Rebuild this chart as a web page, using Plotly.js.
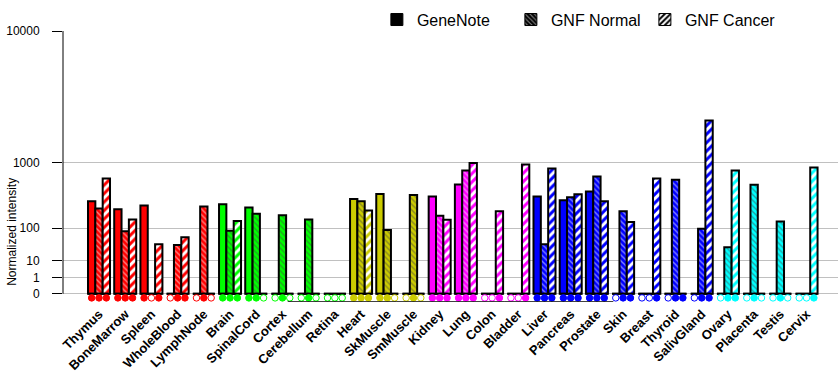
<!DOCTYPE html>
<html>
<head>
<meta charset="utf-8">
<script src="https://cdn.plot.ly/plotly-3.0.1.min.js"></script>
<style>html,body{margin:0;padding:0;background:#fff;}#chart{width:840px;height:385px;}</style>
</head>
<body>
<div id="chart"></div>
<script>
// ---- data ----
const tissues = ["Thymus","BoneMarrow","Spleen","WholeBlood","LymphNode","Brain","SpinalCord","Cortex","Cerebellum","Retina","Heart","SkMuscle","SmMuscle","Kidney","Lung","Colon","Bladder","Liver","Pancreas","Prostate","Skin","Breast","Thyroid","SalivGland","Ovary","Placenta","Testis","Cervix"];
const tissueColors = ["#FF0000","#FF0000","#FF0000","#FF0000","#FF0000","#00FF00","#00FF00","#00FF00","#00FF00","#00FF00","#CCCC00","#CCCC00","#CCCC00","#FF00FF","#FF00FF","#FF00FF","#FF00FF","#0000FF","#0000FF","#0000FF","#0000FF","#0000FF","#0000FF","#0000FF","#00FFFF","#00FFFF","#00FFFF","#00FFFF"];
const geneNote  = [311,230,268,0,0,279,248,0,0,0,338,401,0,370,544,0,0,370,322,437,0,0,0,0,0,0,0,0];
const gnfNormal = [239,85,0,37,258,87,193,180,151,0,311,91,388,178,811,0,0,39,358,687,213,0,626,97,32,539,137,0];
const gnfCancer = [649,151,39,61,0,141,0,0,0,0,221,0,0,148,984,213,949,855,396,311,135,649,0,2508,811,0,0,878];
// detection calls (1 = present, filled dot; 0 = absent, open dot)
const geneNoteCall  = [1,1,1,0,0,1,1,0,0,0,1,1,0,1,1,0,0,1,1,1,0,0,0,0,0,0,0,0];
const gnfNormalCall = [1,1,0,1,1,1,1,1,1,0,1,1,1,1,1,0,0,1,1,1,1,0,1,1,1,1,1,0];
const gnfCancerCall = [1,1,1,1,0,1,0,0,0,0,1,0,0,1,1,1,1,1,1,1,1,1,1,1,1,0,0,1];
const seriesNames = ["GeneNote","GNF Normal","GNF Cancer"];
const yTickValues = [0,1,10,100,1000,10000];
const yTickLabels = ["0","1","10","100","1000","10000"];

// ---- scale: y' = x^log10(2) (each decade doubles) ----
const P = Math.log10(2);
const tf = v => v > 0 ? Math.pow(v, P) : 0;
const idx = tissues.map((_, i) => i);
const BARGAP = 0.16;
const BW = (1 - BARGAP) / 3;
const FONT = "Arial, 'Liberation Sans', sans-serif";
const YMIN = -0.5, YMAX = 16;

const traces = [];

// group baselines (zero-height bars appear as flat outlines)
const bx = [], by = [];
idx.forEach(i => { bx.push(i - 1.5 * BW, i + 1.5 * BW, null); by.push(0, 0, null); });
traces.push({type: "scatter", mode: "lines", x: bx, y: by, line: {color: "#000", width: 2},
  showlegend: false, hoverinfo: "skip"});

const outline = {color: "#000", width: 2};
const normalPattern = c => ({shape: "\\", bgcolor: c, fgcolor: "#FFFFFF", size: 4, solidity: 0.35, fillmode: "overlay"});
const cancerPattern = c => ({shape: "/", bgcolor: "#FFFFFF", fgcolor: c, size: 6, solidity: 0.5, fillmode: "replace"});

traces.push({type: "bar", name: seriesNames[0], x: idx, y: geneNote.map(tf), showlegend: false,
  marker: {color: tissueColors, line: outline}});
traces.push({type: "bar", name: seriesNames[1], x: idx, y: gnfNormal.map(tf), showlegend: false,
  marker: {color: tissueColors, line: outline, pattern: normalPattern(tissueColors)}});
traces.push({type: "bar", name: seriesNames[2], x: idx, y: gnfCancer.map(tf), showlegend: false,
  marker: {color: "#FFFFFF", line: outline, pattern: cancerPattern(tissueColors)}});

// detection call dots under each bar
const calls = [geneNoteCall, gnfNormalCall, gnfCancerCall];
const mx = [], my = [], ms = [], mc = [];
idx.forEach(i => {
  calls.forEach((c, k) => {
    mx.push(i + (k - 1) * BW);
    my.push(-0.25);
    ms.push(c[i] ? "circle" : "circle-open");
    mc.push(tissueColors[i]);
  });
});
traces.push({type: "scatter", mode: "markers", x: mx, y: my, showlegend: false, hoverinfo: "skip",
  marker: {symbol: ms, color: mc, size: 6.5, line: {width: 1, color: mc}}});

// legend entries (black), on a hidden overlay subplot so they don't affect grouping
const legendLine = {color: "#000", width: 1};
traces.push({type: "bar", name: seriesNames[0], x: [0], y: [0], xaxis: "x2", yaxis: "y2", hoverinfo: "skip",
  marker: {color: "#000", line: legendLine}});
traces.push({type: "bar", name: seriesNames[1], x: [0], y: [0], xaxis: "x2", yaxis: "y2", hoverinfo: "skip",
  marker: {color: "#000", line: legendLine, pattern: normalPattern("#000")}});
traces.push({type: "bar", name: seriesNames[2], x: [0], y: [0], xaxis: "x2", yaxis: "y2", hoverinfo: "skip",
  marker: {color: "#FFF", line: legendLine, pattern: {shape: "/", bgcolor: "#FFF", fgcolor: "#000", size: 5, solidity: 0.5, fillmode: "replace"}}});

const layout = {
  width: 840, height: 385,
  margin: {l: 63, r: 2, t: 31, b: 83, pad: 0},
  paper_bgcolor: "#fff", plot_bgcolor: "#fff",
  font: {family: FONT, color: "#000", size: 12},
  barmode: "group", bargap: BARGAP, bargroupgap: 0,
  xaxis: {range: [-1.374, 28.2], tickmode: "array", tickvals: idx, ticktext: tissues, tickangle: -45,
    tickfont: {family: FONT, size: 13, weight: 700, color: "#000"}, showgrid: false, zeroline: false,
    showline: false, ticks: "", ticklabelstandoff: 1, fixedrange: true},
  yaxis: {range: [YMIN, YMAX], tickmode: "array", tickvals: yTickValues.map(tf), ticktext: yTickLabels,
    showgrid: true, gridcolor: "#C0C0C0", gridwidth: 1, zeroline: false, showline: false,
    ticks: "outside", ticklen: 10, tickcolor: "#000", tickwidth: 1,
    tickfont: {family: FONT, size: 12, color: "#000"}, ticklabelstandoff: 10, fixedrange: true},
  xaxis2: {overlaying: "x", visible: false, range: [-1, 1], fixedrange: true},
  yaxis2: {overlaying: "y", visible: false, range: [0, 1], fixedrange: true},
  shapes: [{type: "line", xref: "paper", yref: "y", x0: 0, x1: 0, y0: 0, y1: YMAX, line: {color: "#000", width: 1}}],
  legend: {orientation: "h", x: 0.405, xanchor: "left", y: 1.042, yanchor: "middle",
    font: {family: FONT, size: 16, color: "#000"}, entrywidth: 89, bgcolor: "rgba(0,0,0,0)", traceorder: "normal"},
  annotations: [{text: "Normalized intensity", xref: "paper", yref: "y", x: -0.0652, y: 3.8,
    xanchor: "center", yanchor: "middle", textangle: -90, showarrow: false,
    font: {family: FONT, size: 12, color: "#000"}}],
  showlegend: true
};

Plotly.newPlot("chart", traces, layout, {staticPlot: true, displayModeBar: false});
</script>
</body>
</html>
